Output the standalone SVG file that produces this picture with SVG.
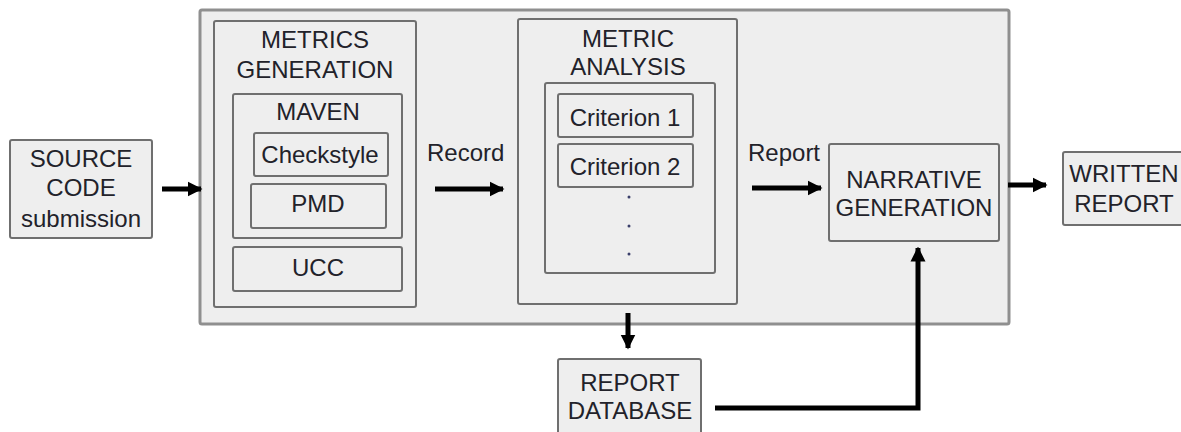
<svg xmlns="http://www.w3.org/2000/svg" width="1181" height="432" viewBox="0 0 1181 432">
  <style>
    .box { fill: #eeeeee; stroke: #6f6f6f; stroke-width: 2; }
    .outer { fill: #eeeeee; stroke: #8f8f8f; stroke-width: 3; }
    .t { font-family: "Liberation Sans", Arial, sans-serif; font-size: 24px; fill: #22222a; text-anchor: middle; }
    .lbl { font-family: "Liberation Sans", Arial, sans-serif; font-size: 24px; fill: #22222a; }
    .wire { fill: none; stroke: #000; stroke-width: 5; }
    .dot { fill: #3a3f6a; }
  </style>
  <defs>
    <marker id="head" viewBox="0 0 10 10" refX="9" refY="5" markerWidth="3" markerHeight="3.2" orient="auto" markerUnits="strokeWidth">
      <path d="M0,0 L10,5 L0,10 Z" fill="#000"/>
    </marker>
  </defs>

  <!-- outer pipeline frame -->
  <rect class="outer" x="200" y="10" width="809" height="314" rx="2"/>

  <g id="source-code">
    <rect class="box" x="10" y="140" width="142" height="98" rx="2"/>
    <text class="t" x="81" y="167">SOURCE</text>
    <text class="t" x="81" y="196">CODE</text>
    <text class="t" x="81" y="227">submission</text>
  </g>

  <g id="metrics-generation">
    <rect class="box" x="214" y="21" width="202" height="286" rx="2"/>
    <text class="t" x="315" y="48">METRICS</text>
    <text class="t" x="315" y="78">GENERATION</text>
  </g>

  <g id="maven">
    <rect class="box" x="233" y="94" width="169" height="144" rx="2"/>
    <text class="t" x="318" y="120">MAVEN</text>
  </g>

  <g id="checkstyle">
    <rect class="box" x="254" y="133" width="134" height="43" rx="2"/>
    <text class="t" x="320" y="163">Checkstyle</text>
  </g>

  <g id="pmd">
    <rect class="box" x="251" y="184" width="135" height="44" rx="2"/>
    <text class="t" x="318" y="212">PMD</text>
  </g>

  <g id="ucc">
    <rect class="box" x="233" y="247" width="169" height="44" rx="2"/>
    <text class="t" x="318" y="276">UCC</text>
  </g>

  <g id="metric-analysis">
    <rect class="box" x="518" y="19" width="219" height="285" rx="2"/>
    <text class="t" x="628" y="47">METRIC</text>
    <text class="t" x="628" y="75">ANALYSIS</text>
  </g>

  <g id="criteria">
    <rect class="box" x="545" y="83" width="170" height="190" rx="2"/>
    <circle class="dot" cx="629" cy="197" r="1.5"/>
    <circle class="dot" cx="629" cy="226" r="1.5"/>
    <circle class="dot" cx="629" cy="254" r="1.5"/>
  </g>

  <g id="criterion-1">
    <rect class="box" x="558" y="94" width="135" height="43" rx="2"/>
    <text class="t" x="625" y="126">Criterion 1</text>
  </g>

  <g id="criterion-2">
    <rect class="box" x="558" y="144" width="135" height="43" rx="2"/>
    <text class="t" x="625" y="175">Criterion 2</text>
  </g>

  <g id="narrative-generation">
    <rect class="box" x="829" y="144" width="170" height="97" rx="2"/>
    <text class="t" x="914" y="188">NARRATIVE</text>
    <text class="t" x="914" y="216">GENERATION</text>
  </g>

  <g id="written-report">
    <rect class="box" x="1063" y="152" width="125" height="73" rx="2"/>
    <text class="t" x="1124" y="182">WRITTEN</text>
    <text class="t" x="1124" y="212">REPORT</text>
  </g>

  <g id="report-database">
    <rect class="box" x="558" y="359" width="143" height="80" rx="2"/>
    <text class="t" x="630" y="391">REPORT</text>
    <text class="t" x="630" y="419">DATABASE</text>
  </g>

  <g id="connectors">
    <path class="wire" d="M162,189 H201" marker-end="url(#head)"/>
    <path class="wire" d="M435,189 H503" marker-end="url(#head)"/>
    <path class="wire" d="M752,188 H821" marker-end="url(#head)"/>
    <path class="wire" d="M1008,185 H1046" marker-end="url(#head)"/>
    <path class="wire" d="M628,313 V348" marker-end="url(#head)"/>
    <path class="wire" d="M715,408 H918 V248" marker-end="url(#head)"/>
    <text class="lbl" x="427" y="161">Record</text>
    <text class="lbl" x="748" y="161">Report</text>
  </g>
</svg>
